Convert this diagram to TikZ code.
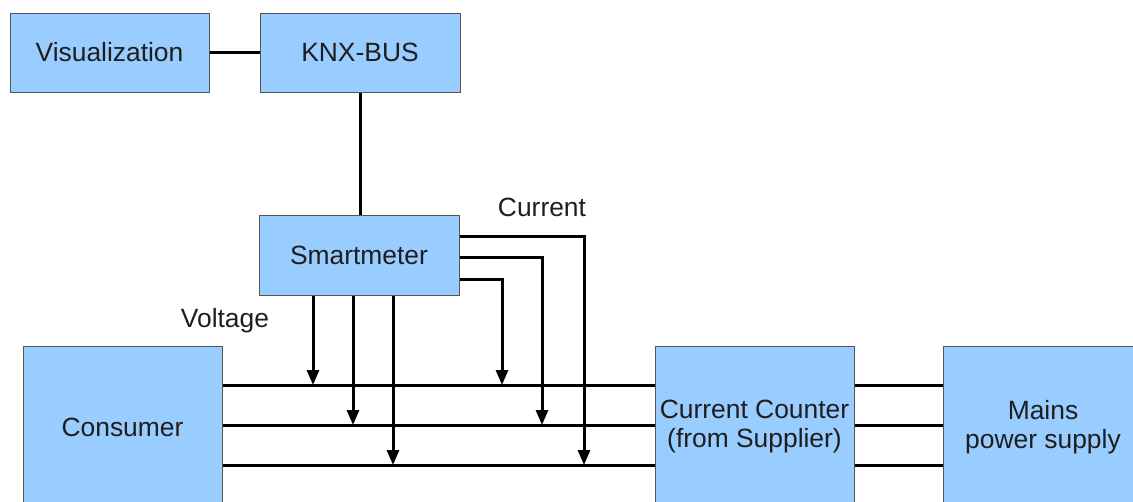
\documentclass[tikz,border=0pt]{standalone}
\usepackage{fontspec}
\setmainfont{Liberation Sans}
\usetikzlibrary{arrows.meta,calc}
\definecolor{boxfill}{HTML}{99CCFF}
\definecolor{boxline}{HTML}{555555}
\definecolor{txt}{HTML}{1E1E1E}
\begin{document}
\begin{tikzpicture}[x=1pt,y=-1pt,
  box/.style={draw=boxline,line width=1pt,fill=boxfill,text=txt,font=\fontsize{26.4}{29}\selectfont,align=center,inner sep=0pt},
  wire/.style={line width=3pt,black},
  arr/.style={wire,-{Triangle[length=15pt,width=12pt]}},
  lbl/.style={text=txt,font=\fontsize{26.4}{29}\selectfont,inner sep=0pt}]
\useasboundingbox (0,0) rectangle (1133,501);
\clip (0,0) rectangle (1133,501);
\node[box,minimum width=199pt,minimum height=79pt] (vis) at (109.5,52.5) {Visualization};
\node[box,minimum width=200pt,minimum height=79pt] (knx) at (360,52.5) {KNX-BUS};
\node[box,minimum width=200pt,minimum height=80pt] (sm) at (359,255) {Smartmeter};
\node[box,minimum width=199pt,minimum height=162pt] (cons) at (122.5,427) {Consumer};
\node[box,minimum width=199pt,minimum height=162pt] (cnt) at (754.5,427) {Current Counter\\(from Supplier)};
\node[box,minimum width=200pt,minimum height=162pt] (mains) at (1043,427) {Mains\\power supply};
\node[lbl] (cur) at (542,207) {Current};
\node[lbl] (volt) at (225,321) {Voltage};
% bus connections
\draw[wire] (vis.east) -- (knx.west);
\draw[wire] (knx.south) -- (sm.north -| knx.south);
% phase lines
\foreach \y/\n in {385/a,425/b,465/c}{
  \coordinate (cl\n) at (cons.east |- 0,\y);
  \coordinate (kl\n) at (cnt.west |- 0,\y);
  \coordinate (kr\n) at (cnt.east |- 0,\y);
  \coordinate (ml\n) at (mains.west |- 0,\y);
  \draw[wire] (cl\n) -- (kl\n);
  \draw[wire] (kr\n) -- (ml\n);
}
% voltage arrows
\draw[arr] (sm.south -| 313,0) -- (313,385);
\draw[arr] (sm.south -| 353,0) -- (353,425);
\draw[arr] (sm.south -| 393,0) -- (393,465);
% current arrows
\draw[arr] (sm.east |- 0,236) -| (584,465);
\draw[arr] (sm.east |- 0,257) -| (542,425);
\draw[arr] (sm.east |- 0,279) -| (502,385);
\end{tikzpicture}
\end{document}
